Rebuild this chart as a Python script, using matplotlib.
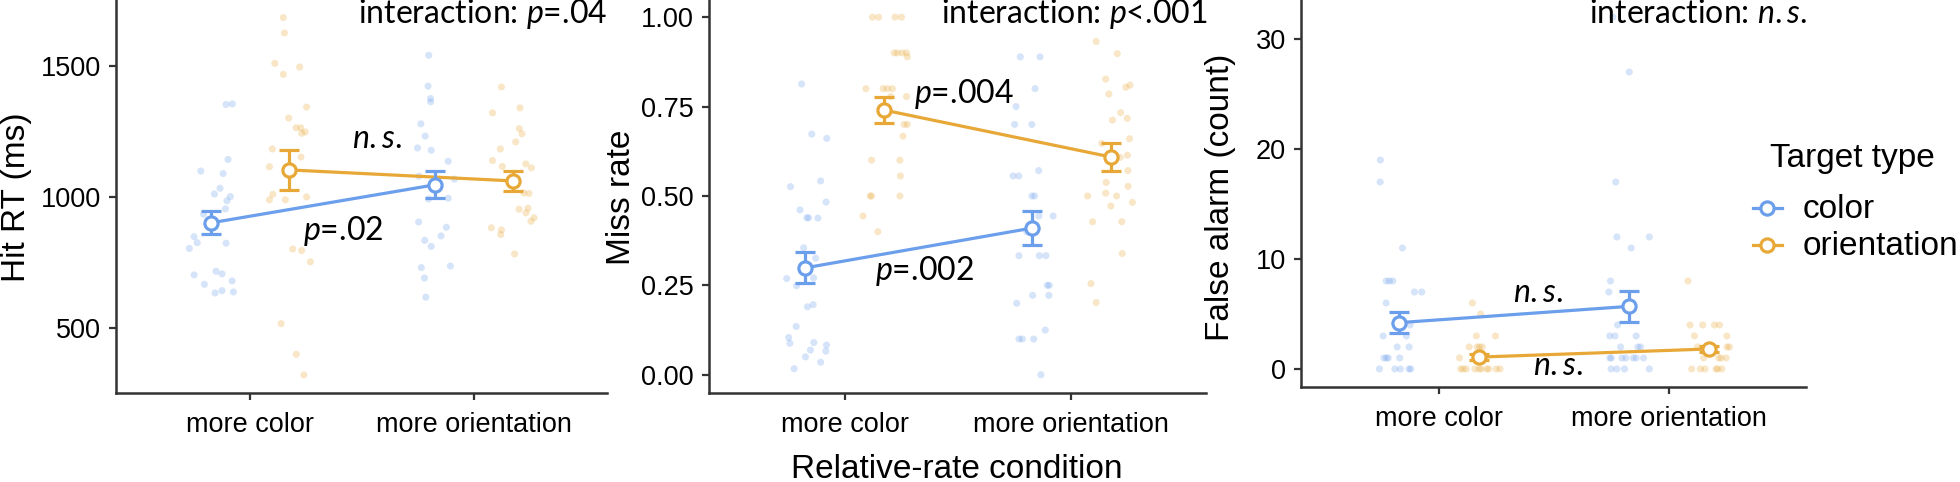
import numpy as np
import matplotlib
matplotlib.use('Agg')
import matplotlib.pyplot as plt
from matplotlib.lines import Line2D

# ---------------- data ----------------
conditions = ['more color', 'more orientation']
target_types = ['color', 'orientation']

# Hit RT (ms)
rt_mean_color = [901, 1046]
rt_se_color = [44, 51]
rt_mean_orient = [1103, 1061]
rt_se_orient = [75, 38]

rt_color_mc_y = [1353, 1355, 1143, 1099, 1089, 1033, 1011, 1001, 985, 954, 934, 848, 825, 823, 803,
                 702, 716, 706, 666, 679, 633, 642, 637]
rt_color_mc_jit = [0.067, 0.095, 0.076, -0.046, 0.054, 0.040, 0.015, 0.086, 0.071, 0.064, -0.034, -0.076,
                   -0.062, 0.067, -0.097, -0.076, 0.022, 0.049, -0.030, 0.094, 0.018, 0.049, 0.100]
rt_orient_mc_y = [1685, 1626, 1510, 1496, 1468, 1343, 1301, 1264, 1264, 1248, 1243, 1183, 1152, 1115,
                  1010, 989, 989, 1000, 801, 795, 752, 516, 399, 320]
rt_orient_mc_jit = [-0.027, -0.022, -0.065, 0.046, -0.027, 0.077, -0.003, 0.030, 0.051, 0.071, 0.055,
                    -0.076, 0.052, -0.089, -0.074, -0.089, -0.018, 0.077, 0.015, 0.055, 0.094, -0.037,
                    0.031, 0.065]
rt_color_mo_y = [1541, 1423, 1376, 1363, 1279, 1232, 1187, 1178, 1136, 1079, 1068, 992, 995, 904, 884,
                 834, 851, 811, 730, 736, 690, 617]
rt_color_mo_jit = [-0.027, -0.030, -0.019, -0.018, -0.062, -0.043, -0.077, -0.016, 0.060, -0.071, 0.088,
                   -0.028, 0.060, -0.072, 0.052, -0.045, 0.028, -0.016, -0.060, 0.070, -0.046, -0.040]
rt_orient_mo_y = [1420, 1321, 1340, 1261, 1241, 1210, 1183, 1139, 1116, 1126, 1111, 1015, 1013, 953,
                  957, 939, 920, 907, 882, 874, 856, 782]
rt_orient_mo_jit = [-0.052, -0.092, 0.031, 0.028, 0.040, 0.012, -0.057, -0.092, -0.048, 0.057, 0.082,
                    0.048, 0.071, 0.027, 0.067, 0.058, 0.094, 0.080, -0.097, -0.052, -0.055, 0.007]

# Miss rate
miss_mean_color = [0.299, 0.410]
miss_se_color = [0.043, 0.048]
miss_mean_orient = [0.740, 0.609]
miss_se_orient = [0.036, 0.038]

miss_color_mc_y = [0.813, 0.673, 0.661, 0.526, 0.542, 0.483, 0.461, 0.439, 0.439, 0.438, 0.355, 0.326,
                   0.269, 0.249, 0.271, 0.190, 0.196, 0.135, 0.104, 0.088, 0.090, 0.083, 0.069, 0.066,
                   0.050, 0.035, 0.017]
miss_color_mc_jit = [-0.016, 0.029, 0.095, -0.065, 0.068, 0.092, -0.023, 0.007, 0.015, 0.056, -0.007,
                     0.046, -0.082, -0.038, 0.037, 0.010, 0.035, -0.040, -0.073, -0.068, 0.038, 0.094,
                     0.023, 0.091, 0.001, 0.068, -0.049]
miss_orient_mc_y = [1.0, 1.0, 1.0, 1.0, 0.9, 0.9, 0.9, 0.9, 0.889, 0.8, 0.8, 0.8, 0.8, 0.778, 0.778,
                    0.7, 0.7, 0.667, 0.6, 0.6, 0.556, 0.5, 0.5, 0.5, 0.444, 0.4]
miss_orient_mc_jit = [-0.053, -0.026, 0.047, 0.075, 0.043, 0.057, 0.078, 0.097, 0.101, -0.082, -0.006,
                      0.013, 0.035, 0.097, 0.028, 0.087, 0.101, 0.082, -0.057, 0.068, 0.070, -0.063,
                      -0.057, 0.068, -0.095, -0.029]
miss_color_mo_y = [0.889, 0.889, 0.8, 0.75, 0.7, 0.7, 0.556, 0.556, 0.571, 0.5, 0.5, 0.444, 0.444, 0.4,
                   0.333, 0.333, 0.333, 0.25, 0.25, 0.222, 0.222, 0.2, 0.125, 0.1, 0.1, 0.1, 0.0]
miss_color_mo_jit = [-0.050, 0.037, 0.015, -0.069, -0.075, 0.001, -0.082, -0.057, 0.031, 0.001, 0.013,
                     0.032, 0.095, -0.021, -0.056, 0.034, 0.063, 0.069, 0.078, 0.004, 0.076, -0.066,
                     0.060, -0.056, -0.041, 0.009, 0.041]
miss_orient_mo_y = [0.932, 0.898, 0.827, 0.804, 0.810, 0.785, 0.733, 0.712, 0.717, 0.660, 0.647, 0.608,
                    0.614, 0.538, 0.571, 0.527, 0.5, 0.508, 0.5, 0.472, 0.482, 0.428, 0.428, 0.339,
                    0.255, 0.202]
miss_orient_mo_jit = [-0.065, 0.028, -0.023, 0.066, 0.084, -0.009, 0.043, 0.007, 0.072, 0.082, -0.040,
                      0.041, 0.073, -0.021, 0.075, 0.076, -0.103, -0.023, 0.025, 0.000, 0.095, -0.081,
                      0.048, 0.050, -0.088, -0.065]

# False alarm (count)
fa_mean_color = [4.21, 5.69]
fa_se_color = [0.98, 1.44]
fa_mean_orient = [1.08, 1.82]
fa_se_orient = [0.25, 0.28]

fa_color_mc_y = [19, 17, 11, 8, 8, 8, 7, 7, 6, 4, 3, 3, 2, 2, 1, 1, 1, 1, 0, 0, 0, 0, 0]
fa_color_mc_jit = [-0.080, -0.081, 0.016, -0.055, -0.041, -0.026, 0.068, 0.100, -0.055, 0.049, -0.068,
                   0.033, -0.007, 0.045, -0.065, -0.054, -0.046, 0.004, -0.084, -0.017, 0.007, 0.044,
                   0.052]
fa_orient_mc_y = [6, 5, 3, 3, 2, 2, 2, 2, 1, 1, 0, 0, 0, 0, 0, 0, 0, 0, 0, 0]
fa_orient_mc_jit = [-0.030, 0.006, -0.013, 0.070, -0.044, -0.009, 0.001, 0.013, -0.086, -0.013, -0.081,
                    -0.070, -0.057, -0.019, -0.001, 0.009, 0.032, 0.042, 0.074, 0.090]
fa_color_mo_y = [32, 27, 17, 12, 12, 11, 8, 7, 4, 3, 3, 3, 2, 2, 2, 1, 1, 1, 1, 1, 1, 1, 0, 0, 0, 0]
fa_color_mo_jit = [-0.070, 0.002, -0.057, -0.052, 0.089, 0.010, -0.080, -0.087, -0.049, -0.083, -0.060,
                   0.032, -0.036, 0.039, 0.051, -0.083, -0.076, -0.030, -0.013, 0.019, 0.032, 0.064,
                   -0.077, -0.052, -0.019, 0.089]
fa_orient_mo_y = [8, 4, 4, 4, 4, 3, 3, 2, 2, 2, 1, 1, 1, 1, 0, 0, 0, 0, 0, 0]
fa_orient_mo_jit = [-0.093, -0.084, -0.029, 0.022, 0.044, -0.065, 0.076, -0.051, 0.077, 0.087, -0.025,
                    0.041, 0.051, 0.073, -0.077, -0.039, -0.019, 0.029, 0.036, 0.054]

rt_ticks = [500, 1000, 1500]
miss_ticks = [0.00, 0.25, 0.50, 0.75, 1.00]
miss_ticklabels = ['0.00', '0.25', '0.50', '0.75', '1.00']
fa_ticks = [0, 10, 20, 30]

# ---------------- style ----------------
plt.rcParams['font.family'] = ['Liberation Sans', 'DejaVu Sans']
plt.rcParams['mathtext.fontset'] = 'custom'
plt.rcParams['mathtext.it'] = 'Lato:italic'
plt.rcParams['mathtext.rm'] = 'Lato'
plt.rcParams['mathtext.default'] = 'it'

BLUE = '#6C9FEB'
ORANGE = '#E8A838'
AXC = '#333333'
ANN = 'Lato'

W, H = 1960, 482
fig = plt.figure(figsize=(W / 100, H / 100), dpi=100)


def px_axes(left, right, top, bottom):
    return fig.add_axes([left / W, 1 - bottom / H, (right - left) / W, (bottom - top) / H])


def ftext(x, y, s, **kw):
    fig.text(x / W, 1 - y / H, s, **kw)


DODGE = {'color': -0.175, 'orientation': 0.175}
COLORS = {'color': BLUE, 'orientation': ORANGE}


def draw_panel(ax, groups, means, ses, ylim, yticks, yticklabels):
    cond_x = np.arange(1, len(conditions) + 1)
    for tt in target_types:
        for ci, (yv, jv) in enumerate(groups[tt]):
            xs = cond_x[ci] + DODGE[tt] + np.asarray(jv)
            ax.scatter(xs, yv, s=26, color=COLORS[tt], alpha=0.28, edgecolors='none', zorder=1)
    for tt in target_types:
        xm = cond_x + DODGE[tt]
        ax.plot(xm, means[tt], color=COLORS[tt], lw=2.3, zorder=3)
        ax.errorbar(xm, means[tt], yerr=ses[tt], fmt='none', ecolor=COLORS[tt], elinewidth=2.3,
                    capsize=7.5, capthick=2.3, zorder=4)
        ax.plot(xm, means[tt], 'o', ms=9.5, mfc='white', mec=COLORS[tt], mew=2.3, zorder=5)
    ax.set_xlim(0.40, 2.595)
    ax.set_ylim(*ylim)
    ax.set_xticks(cond_x)
    ax.set_xticklabels(conditions)
    ax.set_yticks(yticks)
    ax.set_yticklabels(yticklabels)
    for sp in ['top', 'right']:
        ax.spines[sp].set_visible(False)
    for sp in ['left', 'bottom']:
        ax.spines[sp].set_linewidth(1.8)
        ax.spines[sp].set_color(AXC)
    ax.tick_params(axis='both', labelsize=19.5, length=5, width=1.6, color=AXC, labelcolor='black')
    ax.tick_params(axis='x', pad=9)
    ax.tick_params(axis='y', pad=6)
    ax.patch.set_alpha(0)


ax1 = px_axes(116, 607, 0, 393)
ax2 = px_axes(709, 1206, 0, 393)
ax3 = px_axes(1301, 1806, 0, 387)

draw_panel(ax1,
           {'color': [(rt_color_mc_y, rt_color_mc_jit), (rt_color_mo_y, rt_color_mo_jit)],
            'orientation': [(rt_orient_mc_y, rt_orient_mc_jit), (rt_orient_mo_y, rt_orient_mo_jit)]},
           {'color': rt_mean_color, 'orientation': rt_mean_orient},
           {'color': rt_se_color, 'orientation': rt_se_orient},
           (251, 1752), rt_ticks, [str(t) for t in rt_ticks])
draw_panel(ax2,
           {'color': [(miss_color_mc_y, miss_color_mc_jit), (miss_color_mo_y, miss_color_mo_jit)],
            'orientation': [(miss_orient_mc_y, miss_orient_mc_jit), (miss_orient_mo_y, miss_orient_mo_jit)]},
           {'color': miss_mean_color, 'orientation': miss_mean_orient},
           {'color': miss_se_color, 'orientation': miss_se_orient},
           (-0.051, 1.048), miss_ticks, miss_ticklabels)
draw_panel(ax3,
           {'color': [(fa_color_mc_y, fa_color_mc_jit), (fa_color_mo_y, fa_color_mo_jit)],
            'orientation': [(fa_orient_mc_y, fa_orient_mc_jit), (fa_orient_mo_y, fa_orient_mo_jit)]},
           {'color': fa_mean_color, 'orientation': fa_mean_orient},
           {'color': fa_se_color, 'orientation': fa_se_orient},
           (-1.64, 33.55), fa_ticks, [str(t) for t in fa_ticks])

# axis titles
ftext(17, 197, 'Hit RT (ms)', rotation=90, ha='center', va='center', fontsize=24)
ftext(622, 197, 'Miss rate', rotation=90, ha='center', va='center', fontsize=24)
ftext(1220, 197, 'False alarm (count)', rotation=90, ha='center', va='center', fontsize=24)
ftext(957, 478, 'Relative-rate condition', ha='center', va='baseline', fontsize=24)

# annotations
AS = 23
ftext(607, 23, r'interaction: $p$=.04', ha='right', va='baseline', fontsize=AS, family=ANN)
ftext(377, 148, r'$n.s.$', ha='center', va='baseline', fontsize=AS, family=ANN)
ftext(343, 240, r'$p$=.02', ha='center', va='baseline', fontsize=AS, family=ANN)
ftext(1207, 23, r'interaction: $p$<.001', ha='right', va='baseline', fontsize=AS, family=ANN)
ftext(964, 103, r'$p$=.004', ha='center', va='baseline', fontsize=AS, family=ANN)
ftext(924, 280, r'$p$=.002', ha='center', va='baseline', fontsize=AS, family=ANN)
ftext(1807, 23, r'interaction: $n.s.$', ha='right', va='baseline', fontsize=AS, family=ANN)
ftext(1538, 302, r'$n.s.$', ha='center', va='baseline', fontsize=AS, family=ANN)
ftext(1558, 375, r'$n.s.$', ha='center', va='baseline', fontsize=AS, family=ANN)

# legend
ftext(1770, 167, 'Target type', ha='left', va='baseline', fontsize=24)
for i, tt in enumerate(target_types):
    yc = 208 + 37 * i
    fy = 1 - yc / H
    fig.add_artist(Line2D([1753 / W, 1782 / W], [fy, fy], color=COLORS[tt], lw=2.3,
                          transform=fig.transFigure))
    fig.add_artist(Line2D([1767 / W], [fy], marker='o', ms=9.5, mfc='white', mec=COLORS[tt], mew=2.3,
                          transform=fig.transFigure))
    ftext(1803, yc + 10, tt, ha='left', va='baseline', fontsize=24)

fig.savefig('out.png', dpi=100)
